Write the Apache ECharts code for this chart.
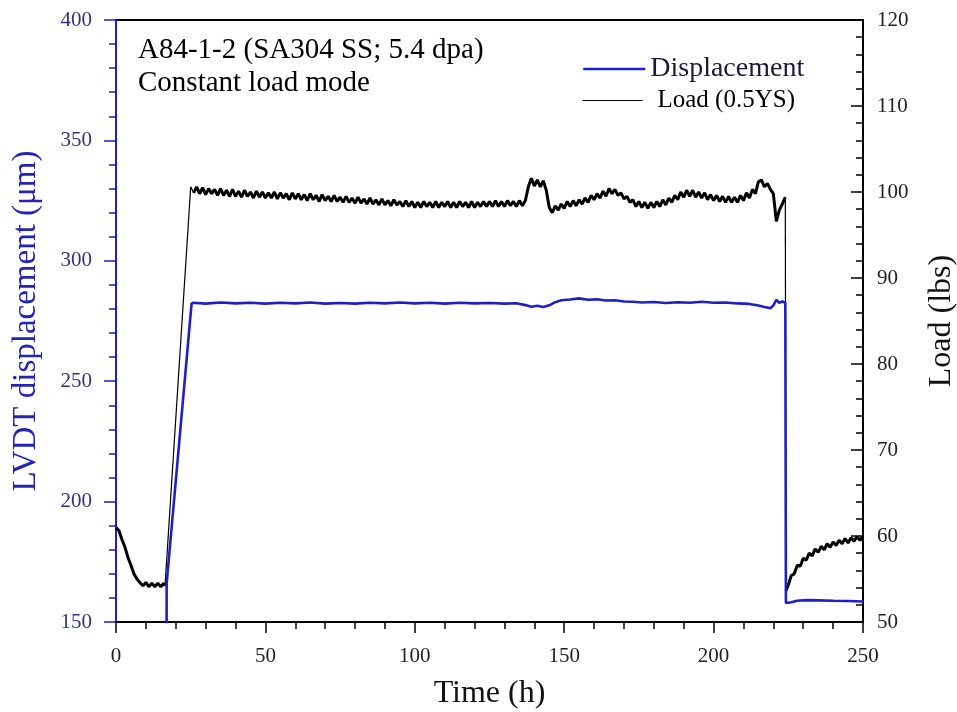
<!DOCTYPE html>
<html>
<head>
<meta charset="utf-8">
<script src="https://cdn.jsdelivr.net/npm/echarts@6/dist/echarts.min.js"></script>
<style>
html,body{margin:0;padding:0;background:#fff;overflow:hidden;}
#chart{width:957px;height:712px;}
</style>
</head>
<body>
<div id="chart"></div>
<script>
// ---- data ----
const xTicks = [0, 50, 100, 150, 200, 250];
const leftTicks = [150, 200, 250, 300, 350, 400];
const rightTicks = [50, 60, 70, 80, 90, 100, 110, 120];

// Displacement (um), left axis, [time h, value]
const displacement = [
  [16.9, 100], [16.95, 166], [25.3, 282.3],
  [26, 282.6], [30, 282.2], [35, 282.7], [40, 282.3], [45, 282.6], [50, 282.2],
  [55, 282.6], [60, 282.3], [65, 282.7], [70, 282.2], [75, 282.5], [80, 282.2],
  [85, 282.6], [90, 282.3], [95, 282.7], [100, 282.3], [105, 282.6], [110, 282.2],
  [115, 282.6], [120, 282.3], [125, 282.5], [130, 282.2], [134, 282.4], [137, 281.6],
  [139, 280.9], [141, 281.3], [143, 280.8], [145, 281.5], [147, 282.8], [149, 283.6],
  [152, 283.9], [155, 284.4], [158, 283.8], [161, 284.0], [164, 283.5], [167, 283.6],
  [170, 283.1], [173, 283.0], [176, 282.7], [180, 282.9], [184, 282.5], [188, 282.8],
  [192, 282.6], [196, 283.0], [200, 282.6], [204, 282.7], [208, 282.3], [212, 282.1],
  [215, 281.4], [217, 280.8], [219, 280.3], [220, 281.5], [221, 283.8], [222, 282.6],
  [223, 283.1], [224, 282.6], [224.2, 157.9], [226, 158.2], [228, 158.8], [231, 159.1],
  [235, 159.0], [240, 158.8], [245, 158.7], [250, 158.5]
];

// Load (lbs), right axis, [time h, value]
const loadStart = [
  [0, 61.0], [1, 60.6], [2, 59.6], [3, 58.7], [4, 57.5], [5, 56.6], [6, 55.6], [7, 55.0],
  [8, 54.6], [9, 54.2], [10, 54.6], [11, 54.1], [12, 54.5], [13, 54.1], [14, 54.5],
  [15, 54.1], [16, 54.5], [16.4, 54.2]
];
const loadRamp = [[16.4, 54.2], [25.0, 100.6], [26, 99.9]];
const loadPlateau = [
  [26, 99.9], [27, 100.6], [28, 99.8], [29, 100.5], [30, 99.7], [31, 100.4], [32, 99.8], [33, 100.3],
  [34, 99.6], [35, 100.4], [36, 99.6], [37, 100.2], [38, 99.5], [39, 100.3], [40, 99.5], [41, 100.1],
  [42, 99.4], [43, 100.2], [44, 99.5], [45, 100.0], [46, 99.3], [47, 100.1], [48, 99.4], [49, 100.0],
  [50, 99.3], [51, 99.9], [52, 99.3], [53, 100.0], [54, 99.2], [55, 99.9], [56, 99.3], [57, 99.8],
  [58, 99.1], [59, 99.9], [60, 99.2], [61, 99.8], [62, 99.1], [63, 99.7], [64, 99.0], [65, 99.8],
  [66, 99.1], [67, 99.6], [68, 98.9], [69, 99.7], [70, 99.0], [71, 99.5], [72, 98.9], [73, 99.6],
  [74, 98.9], [75, 99.4], [76, 98.8], [77, 99.5], [78, 98.8], [79, 99.3], [80, 98.7], [81, 99.4],
  [82, 98.7], [83, 99.2], [84, 98.6], [85, 99.3], [86, 98.6], [87, 99.1], [88, 98.5], [89, 99.2],
  [90, 98.5], [91, 99.0], [92, 98.4], [93, 99.1], [94, 98.5], [95, 98.9], [96, 98.3], [97, 99.0],
  [98, 98.3], [99, 98.9], [100, 98.2], [101, 98.8], [102, 98.2], [103, 98.9], [104, 98.3], [105, 98.8],
  [106, 98.2], [107, 98.9], [108, 98.2], [109, 98.8], [110, 98.3], [111, 98.9], [112, 98.2], [113, 98.8],
  [114, 98.2], [115, 98.9], [116, 98.3], [117, 98.8], [118, 98.2], [119, 98.9], [120, 98.2], [121, 98.8],
  [122, 98.3], [123, 98.9], [124, 98.3], [125, 98.9], [126, 98.3], [127, 99.0], [128, 98.3], [129, 98.9],
  [130, 98.3], [131, 99.0], [132, 98.4], [133, 98.9], [134, 98.3], [135, 99.0], [136, 98.4], [137, 99.0],
  [138, 100.6], [139, 101.6], [140, 100.7], [141, 101.4], [142, 100.6], [143, 101.3], [144, 100.2], [145, 98.2],
  [146, 97.6], [147, 98.4], [148, 97.9], [149, 98.6], [150, 98.1], [151, 98.9], [152, 98.3], [153, 99.0],
  [154, 98.4], [155, 99.1], [156, 98.6], [157, 99.3], [158, 98.8], [159, 99.6], [160, 99.1], [161, 99.8],
  [162, 99.3], [163, 100.1], [164, 99.5], [165, 100.4], [166, 99.8], [167, 100.3], [168, 99.6], [169, 99.9],
  [170, 99.2], [171, 99.5], [172, 98.8], [173, 99.1], [174, 98.3], [175, 98.9], [176, 98.2], [177, 98.8],
  [178, 98.1], [179, 98.8], [180, 98.2], [181, 98.9], [182, 98.3], [183, 99.1], [184, 98.5], [185, 99.3],
  [186, 98.8], [187, 99.6], [188, 99.1], [189, 100.0], [190, 99.4], [191, 100.2], [192, 99.5], [193, 100.2],
  [194, 99.4], [195, 100.0], [196, 99.3], [197, 99.9], [198, 99.1], [199, 99.7], [200, 99.0], [201, 99.6],
  [202, 98.9], [203, 99.5], [204, 98.8], [205, 99.5], [206, 98.8], [207, 99.4], [208, 98.8], [209, 99.6],
  [210, 99.0], [211, 99.9], [212, 99.3], [213, 100.3], [214, 99.8], [215, 101.2], [216, 101.4], [217, 100.6],
  [218, 101.0], [219, 100.3], [220, 99.8], [221, 96.6], [222, 97.9], [223, 98.6], [224, 99.4]
];
const loadDrop = [[224, 99.4], [224.2, 53.6]];
const loadEnd = [
  [224.2, 53.6], [225, 54.3], [226, 55.4], [227, 55.6], [228, 56.6], [229, 56.5], [230, 57.4],
  [231, 57.2], [232, 58.0], [233, 57.7], [234, 58.5], [235, 58.1], [236, 58.8], [237, 58.4],
  [238, 59.1], [239, 58.7], [240, 59.3], [241, 58.9], [242, 59.5], [243, 59.1], [244, 59.7],
  [245, 59.2], [246, 59.8], [247, 59.4], [248, 59.9], [249, 59.5], [250, 60.0]
];

const annotation = ['A84-1-2 (SA304 SS; 5.4 dpa)', 'Constant load mode'];

// ---- chart ----
const FONT = '"Liberation Serif", "Times New Roman", serif';
const BLUE = '#1f1fc8';
const LOAD = 'Load (0.5YS)';
function loadSeries(data, width) {
  return {
    name: LOAD, type: 'line', yAxisIndex: 1, data: data, symbol: 'none', showSymbol: false, clip: true,
    lineStyle: { color: '#000', width: width }, itemStyle: { color: '#000' }
  };
}
const chart = echarts.init(document.getElementById('chart'));
chart.setOption({
  animation: false,
  backgroundColor: '#ffffff',
  textStyle: { fontFamily: FONT },
  grid: {
    left: 116, right: 94, top: 20, bottom: 90, containLabel: false, outerBoundsMode: 'none',
    show: true, borderColor: '#000', borderWidth: 2, backgroundColor: 'transparent'
  },
  legend: [
    {
      left: 577, top: 50, itemWidth: 62, itemHeight: 14, itemGap: 7,
      data: [{ name: 'Displacement', itemStyle: { opacity: 0 }, lineStyle: { width: 2.5 } }],
      textStyle: { fontFamily: FONT, fontSize: 28, color: '#1a1a3a' }
    },
    {
      left: 577, top: 83, itemWidth: 60, itemHeight: 14, itemGap: 20,
      data: [{ name: LOAD, itemStyle: { opacity: 0 }, lineStyle: { width: 1 } }],
      textStyle: { fontFamily: FONT, fontSize: 25, color: '#000', padding: [0, 0, 0, 10] }
    }
  ],
  xAxis: {
    type: 'value', min: 0, max: 250, interval: 50,
    name: 'Time (h)', nameLocation: 'middle', nameGap: 56,
    nameTextStyle: { fontFamily: FONT, fontSize: 32, color: '#111' },
    axisLine: { show: true, lineStyle: { color: '#000', width: 2 } },
    axisTick: { show: true, inside: false, length: 11, lineStyle: { color: '#000', width: 1.5 } },
    minorTick: { show: true, splitNumber: 5, length: 7, lineStyle: { color: '#000', width: 1.5 } },
    axisLabel: { margin: 24, fontFamily: FONT, fontSize: 21, color: '#222' },
    splitLine: { show: false }
  },
  yAxis: [
    {
      type: 'value', min: 150, max: 400, interval: 50, position: 'left',
      name: 'LVDT displacement (μm)', nameLocation: 'middle', nameRotate: 90, nameGap: 73,
      nameTextStyle: { fontFamily: FONT, fontSize: 33, color: '#2424b4' },
      axisLine: { show: true, lineStyle: { color: BLUE, width: 2 } },
      axisTick: { show: true, inside: false, length: 12, lineStyle: { color: BLUE, width: 1.5 } },
      minorTick: { show: true, splitNumber: 5, length: 7, lineStyle: { color: BLUE, width: 1.5 } },
      axisLabel: { margin: 24, fontFamily: FONT, fontSize: 21, color: '#34347e' },
      splitLine: { show: false }
    },
    {
      type: 'value', min: 50, max: 120, interval: 10, position: 'right',
      name: 'Load (lbs)', nameLocation: 'middle', nameRotate: 90, nameGap: 63,
      nameTextStyle: { fontFamily: FONT, fontSize: 32, color: '#111' },
      axisLine: { show: true, lineStyle: { color: '#000', width: 2 } },
      axisTick: { show: true, inside: true, length: 12, lineStyle: { color: '#000', width: 1.5 } },
      minorTick: { show: true, splitNumber: 5, length: 7, lineStyle: { color: '#000', width: 1.5 } },
      axisLabel: { margin: 14, fontFamily: FONT, fontSize: 21, color: '#222' },
      splitLine: { show: false }
    }
  ],
  graphic: [
    { type: 'text', left: 138, top: 36, style: { text: annotation[0], font: '29px ' + FONT, fill: '#000' } },
    { type: 'text', left: 138, top: 69, style: { text: annotation[1], font: '29px ' + FONT, fill: '#000' } }
  ],
  series: [
    loadSeries(loadStart, 3),
    loadSeries(loadRamp, 1.2),
    loadSeries(loadPlateau, 3),
    loadSeries(loadDrop, 1.2),
    loadSeries(loadEnd, 3),
    {
      name: 'Displacement', type: 'line', yAxisIndex: 0, data: displacement, symbol: 'none', showSymbol: false, clip: true,
      lineStyle: { color: BLUE, width: 2.6 }, itemStyle: { color: BLUE }
    }
  ]
});
</script>
</body>
</html>
